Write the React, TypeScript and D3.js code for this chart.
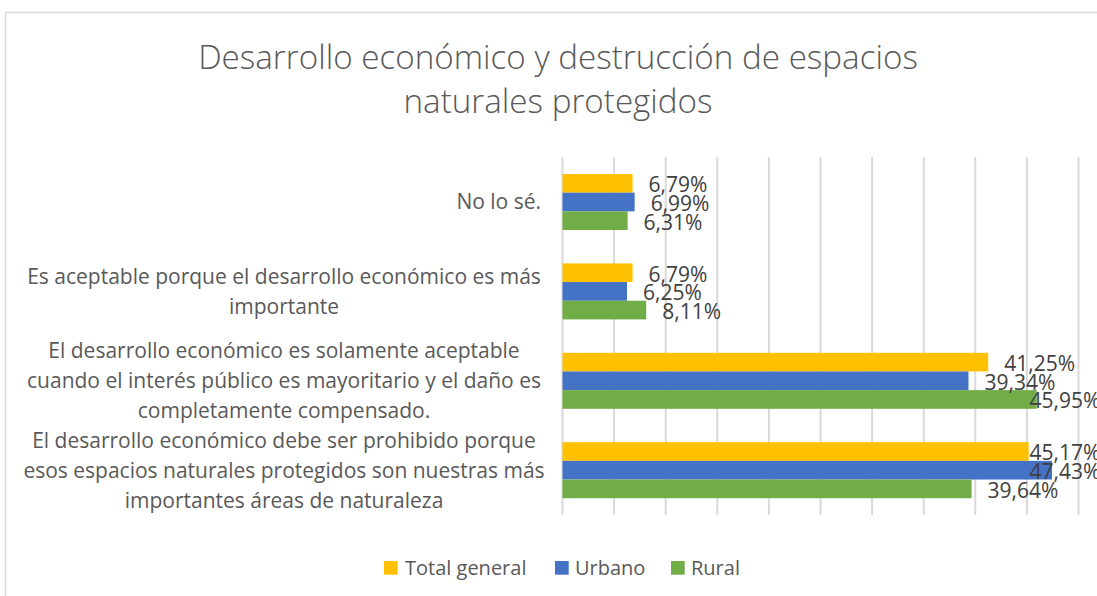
import React from "react";
import * as d3 from "d3";

const categoryLines: string[][] = [
  ["No lo sé."],
  ["Es aceptable porque el desarrollo económico es más", "importante"],
  [
    "El desarrollo económico es solamente aceptable",
    "cuando el interés público es mayoritario y el daño es",
    "completamente compensado.",
  ],
  [
    "El desarrollo económico debe ser prohibido porque",
    "esos espacios naturales protegidos son nuestras más",
    "importantes áreas de naturaleza",
  ],
];
const categories = categoryLines.map((l) => l.join(" "));

const seriesNames = ["Total general", "Urbano", "Rural"];
const seriesColors = ["#FFC000", "#4472C4", "#70AD47"];
const totalGeneral = [6.79, 6.79, 41.25, 45.17];
const urbano = [6.99, 6.25, 39.34, 47.43];
const rural = [6.31, 8.11, 45.95, 39.64];
const seriesValues = [totalGeneral, urbano, rural];
const xTicks = [0, 5, 10, 15, 20, 25, 30, 35, 40, 45, 50];

const titleLines = ["Desarrollo económico y destrucción de espacios", "naturales protegidos"];

const W = 1097;
const H = 596;
const FONT = "'Open Sans', 'DejaVu Sans', sans-serif";

export default function App() {
  const x = d3.scaleLinear().domain([0, 50]).range([562.5, 1078.5]);
  const y = d3
    .scaleBand<string>()
    .domain(categories)
    .range([157.3, 514.9])
    .paddingInner(0.3736)
    .paddingOuter(0.1868);
  const ys = d3
    .scaleBand<string>()
    .domain(seriesNames)
    .range([0, y.bandwidth()]);
  const fmt = (v: number) => v.toFixed(2).replace(".", ",") + "%";
  const labelMax = x(50) - 49;

  const legendItems = [
    { x: 384, tx: 405 },
    { x: 555, tx: 575 },
    { x: 671, tx: 691 },
  ];

  return (
    <svg
      width={W}
      height={H}
      style={{ position: "absolute", left: 0, top: 0, background: "#fff" }}
      fontFamily={FONT}
    >
      <rect x={5.5} y={12.5} width={1300} height={800} fill="#fff" stroke="#d9d9d9" strokeWidth={1.5} />
      {titleLines.map((t, i) => (
        <text
          key={t}
          x={558}
          y={57 + i * 44}
          textAnchor="middle"
          dy="0.35em"
          fontSize={33.2}
          fontWeight={300}
          fill="#595959"
        >
          {t}
        </text>
      ))}
      {xTicks.map((t) => (
        <line key={t} x1={x(t)} x2={x(t)} y1={157} y2={515} stroke="#d9d9d9" strokeWidth={2} />
      ))}
      {categories.map((c, ci) =>
        seriesNames.map((s, si) => (
          <rect
            key={c + s}
            x={x(0)}
            y={(y(c) as number) + (ys(s) as number)}
            width={x(seriesValues[si][ci]) - x(0)}
            height={ys.bandwidth()}
            fill={seriesColors[si]}
          />
        ))
      )}
      {categories.map((c, ci) =>
        seriesNames.map((s, si) => {
          const v = seriesValues[si][ci];
          return (
            <text
              key={"l" + c + s}
              x={Math.min(x(v) + 16, labelMax)}
              y={(y(c) as number) + (ys(s) as number) + ys.bandwidth() / 2 + 1.5}
              dy="0.35em"
              fontSize={21}
              fill="#404040"
            >
              {fmt(v)}
            </text>
          );
        })
      )}
      {categoryLines.map((lines, ci) => {
        const cy = (y(categories[ci]) as number) + y.bandwidth() / 2;
        const n = lines.length;
        return lines.map((ln, li) => (
          <text
            key={ci + "-" + li}
            x={n > 1 ? 284 : 541}
            y={cy + (li - (n - 1) / 2) * 30}
            dy="0.35em"
            textAnchor={n > 1 ? "middle" : "end"}
            fontSize={21}
            fill="#595959"
          >
            {ln}
          </text>
        ));
      })}
      {seriesNames.map((s, si) => (
        <g key={"lg" + s}>
          <rect x={legendItems[si].x} y={561} width={13.7} height={13.7} fill={seriesColors[si]} />
          <text x={legendItems[si].tx} y={568} dy="0.35em" fontSize={20} fill="#595959">
            {s}
          </text>
        </g>
      ))}
    </svg>
  );
}
